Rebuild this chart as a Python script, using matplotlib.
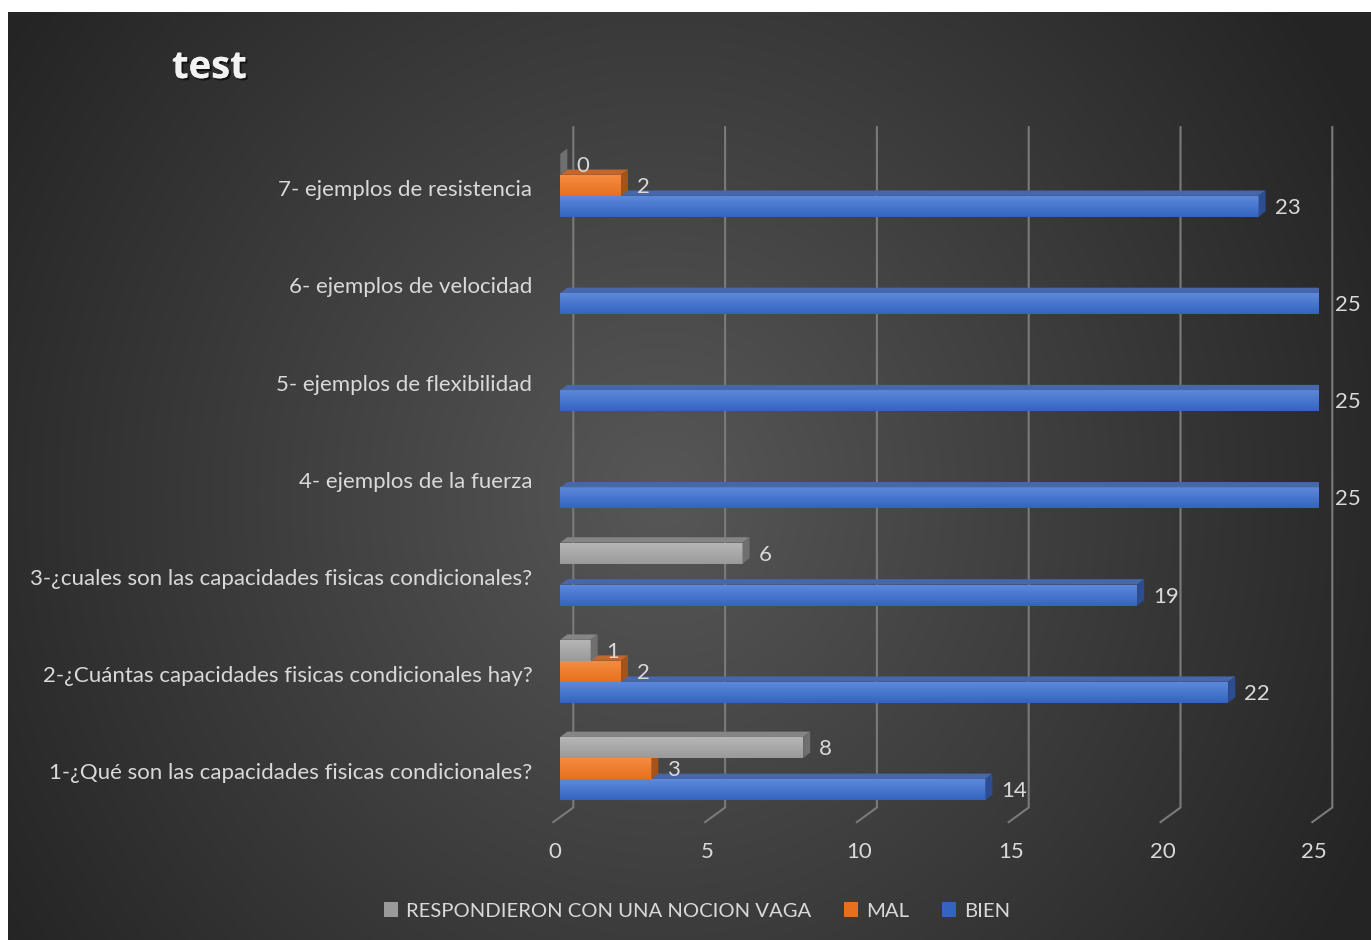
import numpy as np
import matplotlib
matplotlib.use("Agg")
import matplotlib.pyplot as plt
from matplotlib.patches import Polygon, Patch
from matplotlib import transforms, patheffects

# ---- data -------------------------------------------------------------
categories = [
    "1-¿Qué son las capacidades fisicas condicionales?",
    "2-¿Cuántas capacidades fisicas condicionales hay?",
    "3-¿cuales son las capacidades fisicas condicionales?",
    "4- ejemplos de la fuerza",
    "5- ejemplos de flexibilidad",
    "6- ejemplos de velocidad",
    "7- ejemplos de resistencia",
]
bien = [14, 22, 19, 25, 25, 25, 23]
mal = [3, 2, np.nan, np.nan, np.nan, np.nan, 2]
vaga = [8, 1, 6, np.nan, np.nan, np.nan, 0]
series_names = ["RESPONDIERON CON UNA NOCION VAGA", "MAL", "BIEN"]
x_ticks = [0, 5, 10, 15, 20, 25]
title = "test"

# ---- style ------------------------------------------------------------
plt.rcParams["font.family"] = ["Lato", "DejaVu Sans"]
TXT = "#d9d9d9"
FS = 16
FS_LEG = 14.6

# front gradient (top, bottom), top face, side face
PAL = {
    "BIEN": ("#5d89db", "#3464c0", "#4767ad", "#2d4d93"),
    "MAL": ("#f58c40", "#e7701e", "#c4652b", "#a4531b"),
    "VAGA": ("#b6b6b6", "#9a9a9a", "#858585", "#6f6f6f"),
}

W, H, DPI = 1371, 940, 100
fig = plt.figure(figsize=(W / DPI, H / DPI), dpi=DPI, facecolor="white")

# ---- dark radial-gradient panel --------------------------------------
bg = fig.add_axes([8 / W, 0, 1 - 8 / W, 1 - 12 / H])
bg.set_axis_off()
pw, ph = W - 8, H - 12
yy, xx = np.mgrid[0:ph, 0:pw]
r = np.sqrt(((xx - pw * 0.48) / 760.0) ** 2 + ((yy - ph * 0.52) / 800.0) ** 2)
g = np.clip(87 - 49 * r, 36, 255) / 255.0
bg.imshow(np.dstack([g, g, g]), aspect="auto", extent=(0, 1, 0, 1),
          interpolation="bilinear")
bg.set_xlim(0, 1)
bg.set_ylim(0, 1)

# ---- plot area (front plane of the bars) ----------------------------
L, R, TOP, BOT = 560.3, 1319.3, 136.7, 817.0
ax = fig.add_axes([L / W, 1 - BOT / H, (R - L) / W, (BOT - TOP) / H])
ax.set_xlim(0, 25)
ax.set_ylim(0, len(categories))
ax.set_axis_off()
ax.patch.set_alpha(0)

p0 = ax.transData.transform((0, 0))
p1 = ax.transData.transform((1, 1))
sx, sy = p1 - p0


def px(dx, dy):
    """Pixel offset (right, up) -> data-unit offset."""
    return dx / sx, dy / sy


def shifted(dx, dy):
    return ax.transData + transforms.ScaledTranslation(dx / DPI, dy / DPI,
                                                       fig.dpi_scale_trans)


bdx, bdy = px(7, 5.3)       # bar depth
wdx, wdy = px(13, 9.5)      # back wall
fdx, fdy = px(-7, -5.1)     # front edge of the floor

# gridlines on back wall + floor, with value ticks along the front edge
ymax = len(categories)
for v in x_ticks:
    ax.plot([v + wdx, v + wdx, v + fdx], [ymax + wdy, wdy, fdy],
            color="#7a7a7a", lw=1.5, clip_on=False, zorder=1,
            solid_joinstyle="miter")
    ax.text(v, 0, str(v), transform=shifted(-5, -35), ha="center",
            va="center", color=TXT, fontsize=FS)

h = 0.216
grad = np.linspace(0, 1, 64).reshape(-1, 1)


def draw_bar(value, yc, key, z):
    if np.isnan(value):
        return
    c_top, c_bot, c_face, c_side = PAL[key]
    y0, y1 = yc - h / 2, yc + h / 2
    bars = ax.barh(yc, value, height=h, left=0, color=c_bot, zorder=z,
                   linewidth=0)
    if value > 0:
        cm = matplotlib.colors.LinearSegmentedColormap.from_list(
            "g", [c_top, c_bot])
        im = ax.imshow(grad, extent=(0, value, y0, y1), aspect="auto",
                       cmap=cm, origin="upper", zorder=z + 0.1,
                       interpolation="bilinear")
        im.set_clip_path(bars[0])
    ax.add_patch(Polygon([(0, y1), (value, y1), (value + bdx, y1 + bdy),
                          (bdx, y1 + bdy)], closed=True, color=c_face,
                         zorder=z + 0.2, lw=0))
    ax.add_patch(Polygon([(value, y0), (value + bdx, y0 + bdy),
                          (value + bdx, y1 + bdy), (value, y1)], closed=True,
                         color=c_side, zorder=z + 0.3, lw=0))
    ax.text(value, yc, f"{value:g}", transform=shifted(16, -1.5), ha="left",
            va="center", color=TXT, fontsize=FS, zorder=100)


for i, cat in enumerate(categories):
    yc = i + 0.5
    draw_bar(bien[i], yc - h, "BIEN", 3 + i * 3)
    draw_bar(mal[i], yc, "MAL", 4 + i * 3)
    draw_bar(vaga[i], yc + h, "VAGA", 5 + i * 3)
    ax.text(0, yc, cat, transform=shifted(-28, -5), ha="right",
            va="center", color=TXT, fontsize=FS)

ax.set_xlim(0, 25)
ax.set_ylim(0, ymax)

# ---- title ------------------------------------------------------------
fig.text(172 / W, 1 - 68 / H, title, ha="left", va="center", fontsize=27.5,
         fontweight="bold", color="#f2f2f2", family=["Open Sans", "DejaVu Sans"],
         path_effects=[patheffects.withSimplePatchShadow(
             offset=(1.5, -1.5), shadow_rgbFace="black", alpha=0.6),
             patheffects.Normal()])

# ---- legend -----------------------------------------------------------
handles = [Patch(facecolor=PAL["VAGA"][1]), Patch(facecolor=PAL["MAL"][1]),
           Patch(facecolor=PAL["BIEN"][1])]
fig.legend(handles, series_names, loc="center",
           bbox_to_anchor=(697 / W, 1 - 911 / H), ncol=3, frameon=False,
           fontsize=FS_LEG, labelcolor=TXT, handlelength=0.7,
           handleheight=0.7, handletextpad=0.4, columnspacing=1.6)

fig.savefig("out.png", dpi=DPI, facecolor="white")
